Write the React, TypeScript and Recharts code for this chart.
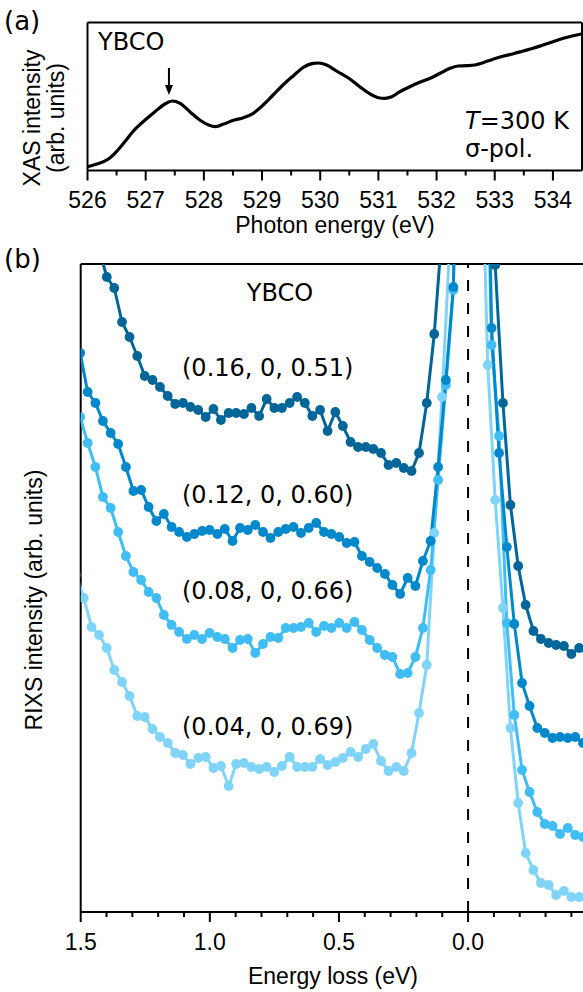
import React from "react";
import { LineChart, Line, XAxis, YAxis, ReferenceLine, ReferenceDot } from "recharts";

// (a) O K-edge XAS
const photonEnergy = [
  526.0, 526.16, 526.36, 526.47, 526.62, 526.79, 526.99, 527.16, 527.33, 527.46,
  527.59, 527.76, 527.93, 528.08, 528.19, 528.33, 528.51, 528.68, 528.85, 529.02,
  529.19, 529.36, 529.54, 529.71, 529.88, 529.97, 530.11, 530.28, 530.51, 530.68,
  530.85, 531.0, 531.11, 531.23, 531.37, 531.54, 531.71, 531.89, 532.06, 532.23,
  532.37, 532.52, 532.66, 532.8, 532.97, 533.14, 533.32, 533.49, 533.66, 533.83,
  534.0, 534.18, 534.35, 534.49,
];
const xasIntensity = [
  0.038, 0.065, 0.115, 0.172, 0.272, 0.395, 0.505, 0.588, 0.665, 0.695,
  0.672, 0.588, 0.505, 0.455, 0.438, 0.462, 0.502, 0.528, 0.572, 0.655,
  0.755, 0.855, 0.948, 1.032, 1.072, 1.075, 1.055, 0.995, 0.915, 0.838,
  0.768, 0.728, 0.722, 0.738, 0.788, 0.838, 0.882, 0.922, 0.972, 1.022,
  1.045, 1.048, 1.055, 1.078, 1.112, 1.142, 1.168, 1.195, 1.222, 1.255,
  1.288, 1.322, 1.348, 1.365,
];
const xasMajorTicks = [526, 527, 528, 529, 530, 531, 532, 533, 534];
const xasMinorTicks = [526.5, 527.5, 528.5, 529.5, 530.5, 531.5, 532.5, 533.5];

// (b) RIXS spectra, energy loss in eV
const energyLoss = [
  1.517, 1.488, 1.458, 1.429, 1.399, 1.37, 1.34, 1.311, 1.281, 1.252,
  1.222, 1.193, 1.163, 1.134, 1.104, 1.075, 1.045, 1.016, 0.986, 0.957,
  0.927, 0.898, 0.868, 0.839, 0.809, 0.78, 0.75, 0.721, 0.691, 0.662,
  0.632, 0.603, 0.573, 0.544, 0.514, 0.485, 0.455, 0.426, 0.396, 0.367,
  0.337, 0.308, 0.278, 0.249, 0.219, 0.19, 0.16, 0.131, 0.101, 0.072,
  0.042, 0.013, -0.017, -0.046, -0.076, -0.105, -0.135, -0.164, -0.194, -0.223,
  -0.253, -0.282, -0.312, -0.341, -0.371, -0.4, -0.43, -0.459,
];
const rixsQ016 = [
  null, null, null, 66.3, 63.5, 62.4, 59.0, 57.5, 55.6, 53.6,
  53.2, 52.5, 51.6, 50.8, 50.9, 50.5, 50.2, 49.5, 50.3, 49.2,
  49.9, 49.9, 49.8, 50.4, 49.6, 51.3, 50.4, 50.4, 50.9, 51.5,
  50.9, 49.6, 50.2, 48.1, 50.0, 48.6, 47.0, 46.5, 46.5, 46.3,
  45.9, 44.7, 44.9, 44.4, 44.1, 45.9, 50.9, 57.8, 68.0, 101.2,
  131.2, 151.2, 151.2, 131.2, 121.2, 64.7, 50.9, 40.7, 34.6, 30.7,
  28.1, 27.3, 26.9, 26.7, 26.6, 25.8, 26.4, 26.2,
];
const rixsQ012 = [
  55.9, 52.0, 50.9, 49.1, 47.9, 46.8, 44.5, 42.1, 42.2, 40.5,
  39.1, 39.8, 38.5, 38.0, 37.5, 37.8, 38.1, 38.2, 37.8, 38.3,
  37.1, 38.4, 38.2, 38.7, 38.0, 37.4, 38.0, 38.3, 38.5, 37.9,
  38.4, 38.9, 38.0, 37.8, 37.5, 36.9, 37.0, 35.6, 35.0, 34.4,
  33.8, 32.7, 31.8, 33.4, 32.6, 35.1, 37.1, 44.5, 53.2, 62.5,
  101.2, 141.2, 141.2, 101.2, 58.4, 45.9, 36.5, 28.8, 22.9, 20.6,
  18.4, 17.9, 17.4, 17.5, 17.4, 17.5, 16.9, 17.0,
];
const rixsQ008 = [
  49.5, 46.9, 44.5, 41.5, 40.4, 38.0, 35.6, 34.0, 33.2, 32.0,
  31.4, 29.7, 28.7, 28.0, 27.3, 27.7, 27.3, 27.9, 27.5, 27.3,
  26.4, 27.2, 27.3, 25.9, 26.8, 27.5, 27.4, 28.4, 28.4, 28.5,
  28.9, 28.0, 28.6, 28.4, 28.9, 28.4, 29.0, 28.2, 27.2, 26.4,
  25.7, 25.5, 23.8, 23.9, 25.5, 28.4, 34.2, 43.2, 52.7, 62.2,
  101.2, 141.2, 141.2, 91.2, 56.7, 47.6, 28.9, 19.7, 14.2, 12.0,
  10.0, 8.8, 8.6, 7.8, 8.4, 7.7, 7.5, 7.5,
];
const rixsQ004 = [
  33.7, 31.4, 28.5, 27.7, 26.4, 24.2, 23.0, 21.6, 19.6, 19.5,
  18.3, 17.5, 16.9, 15.9, 15.7, 14.8, 15.4, 15.5, 14.4, 14.6,
  12.6, 14.8, 14.9, 14.5, 14.3, 14.5, 14.0, 14.6, 15.5, 14.5,
  14.5, 14.5, 15.3, 14.7, 15.0, 15.4, 16.0, 15.5, 16.3, 16.8,
  15.1, 14.1, 14.5, 14.1, 15.9, 19.9, 24.7, 37.9, 51.5, 66.2,
  111.2, 141.2, 141.2, 84.2, 54.7, 41.2, 30.4, 18.4, 10.9, 5.9,
  4.2, 2.9, 2.7, 1.7, 2.1, 1.5, 1.5, 1.4,
];
// energy grid of the 0.12 and 0.08 scans sits half a step lower
const lossShift = [0, 0.015, 0.015, 0];
const qLabels = ["(0.16, 0, 0.51)", "(0.12, 0, 0.60)", "(0.08, 0, 0.66)", "(0.04, 0, 0.69)"];
const lossMajorTicks = [1.5, 1.0, 0.5, 0.0];
const lossMinorTicks = [1.4, 1.3, 1.2, 1.1, 0.9, 0.8, 0.7, 0.6, 0.4, 0.3, 0.2, 0.1, -0.1, -0.2, -0.3, -0.4];

const COLORS = ["#006699", "#0088cc", "#40bdf5", "#80d4fa"];
const ARIAL = "'Liberation Sans', Arial, sans-serif";
const VERDANA = "'DejaVu Sans', Verdana, sans-serif";

const xasData = photonEnergy.map((e, i) => ({ e, v: xasIntensity[i] }));

const rixsSeries = [rixsQ016, rixsQ012, rixsQ008, rixsQ004].map((vals, s) => ({
  label: qLabels[s],
  color: COLORS[s],
  data: energyLoss
    .map((e, i) => ({ e: +(e - lossShift[s]).toFixed(4), v: vals[i] }))
    .filter((d) => d.v !== null),
}));

function FrameTick(props: any) {
  const { x, y, payload, major, digits } = props;
  const isMajor = major.includes(payload.value);
  return (
    <g>
      <line x1={x} x2={x} y1={y} y2={y + (isMajor ? 10 : 5)} stroke="#000" strokeWidth={2} />
      {isMajor && (
        <text x={x} y={y + 37.5} textAnchor="middle" fontSize={23} fontFamily={ARIAL} fill="#000">
          {payload.value.toFixed(digits)}
        </text>
      )}
    </g>
  );
}

function DownArrow(props: any) {
  const { cx, cy } = props;
  return (
    <g>
      <line x1={cx} x2={cx} y1={cy - 27} y2={cy - 8} stroke="#000" strokeWidth={2} />
      <polygon points={`${cx - 4},${cy - 10} ${cx + 4},${cy - 10} ${cx},${cy}`} fill="#000" />
    </g>
  );
}

export default function App() {
  return (
    <div style={{ position: "absolute", left: 0, top: 0, width: 583, height: 992, background: "#fff" }}>
      <div style={{ position: "absolute", left: 0, top: 0 }}>
        <LineChart width={583} height={240} margin={{ top: 22.5, right: 1, bottom: 39.5, left: 87.5 }}>
          <XAxis
            type="number"
            dataKey="e"
            domain={[526, 534.5]}
            allowDataOverflow
            ticks={[...xasMajorTicks, ...xasMinorTicks]}
            interval={0}
            tickSize={0}
            tickMargin={0}
            tickLine={false}
            axisLine={{ stroke: "#000", strokeWidth: 2 }}
            tick={<FrameTick major={xasMajorTicks} digits={0} />}
          />
          <YAxis hide type="number" domain={[0, 1.48]} allowDataOverflow />
          <ReferenceLine x={526} stroke="#000" strokeWidth={2} />
          <ReferenceLine x={534.5} stroke="#000" strokeWidth={2} />
          <ReferenceLine y={1.48} stroke="#000" strokeWidth={2} />
          <Line
            data={xasData}
            dataKey="v"
            type="monotone"
            stroke="#000"
            strokeWidth={3.2}
            dot={false}
            isAnimationActive={false}
          />
          <ReferenceDot x={527.4} y={0.755} r={0} shape={(p: any) => <DownArrow {...p} />} />
        </LineChart>
      </div>

      <div style={{ position: "absolute", left: 0, top: 240 }}>
        <LineChart width={583} height={752} margin={{ top: 24, right: 0, bottom: 50, left: 80.7 }}>
          <XAxis
            type="number"
            dataKey="e"
            domain={[-0.445, 1.5]}
            reversed
            allowDataOverflow
            ticks={[...lossMajorTicks, ...lossMinorTicks]}
            interval={0}
            tickSize={0}
            tickMargin={0}
            tickLine={false}
            axisLine={{ stroke: "#000", strokeWidth: 2 }}
            tick={<FrameTick major={lossMajorTicks} digits={1} />}
          />
          <YAxis hide type="number" domain={[0, 64.8]} allowDataOverflow />
          <ReferenceLine x={1.5} stroke="#000" strokeWidth={2} />
          <ReferenceLine y={64.8} stroke="#000" strokeWidth={2} />
          <ReferenceLine x={0} stroke="#000" strokeWidth={2} strokeDasharray="11 12" />
          {rixsSeries
            .slice()
            .reverse()
            .map((s) => (
              <Line
                key={s.label}
                data={s.data}
                dataKey="v"
                type="linear"
                stroke={s.color}
                strokeWidth={3}
                dot={{ r: 4.9, fill: s.color, stroke: s.color, strokeWidth: 0 }}
                isAnimationActive={false}
              />
            ))}
        </LineChart>
      </div>

      <svg
        width={583}
        height={992}
        style={{ position: "absolute", left: 0, top: 0, pointerEvents: "none" }}
      >
        <text x={4} y={29.5} fontSize={26} fontFamily={VERDANA}>(a)</text>
        <text x={4} y={268} fontSize={26} fontFamily={VERDANA}>(b)</text>

        <text x={98} y={50} fontSize={24} fontFamily={VERDANA}>YBCO</text>
        <text x={465} y={128.5} fontSize={24} fontFamily={VERDANA}>
          <tspan fontStyle="italic">T</tspan>=300 K
        </text>
        <text x={465} y={156.5} fontSize={24} fontFamily={VERDANA}>σ-pol.</text>
        <text x={335} y={233} fontSize={23} fontFamily={ARIAL} textAnchor="middle">Photon energy (eV)</text>
        <text transform="translate(40,118) rotate(-90)" fontSize={23} fontFamily={ARIAL} textAnchor="middle">
          XAS intensity
        </text>
        <text transform="translate(64,118) rotate(-90)" fontSize={23} fontFamily={ARIAL} textAnchor="middle">
          (arb. units)
        </text>

        <text x={280} y={300.5} fontSize={24} fontFamily={VERDANA} textAnchor="middle">YBCO</text>
        {[376, 502.5, 598.5, 734.5].map((y, i) => (
          <text key={qLabels[i]} x={182} y={y} fontSize={24} fontFamily={VERDANA}>
            {qLabels[i]}
          </text>
        ))}
        <text transform="translate(42,600) rotate(-90)" fontSize={23} fontFamily={ARIAL} textAnchor="middle">
          RIXS intensity (arb. units)
        </text>
        <text x={333} y={984} fontSize={23} fontFamily={ARIAL} textAnchor="middle">Energy loss (eV)</text>
      </svg>
    </div>
  );
}
